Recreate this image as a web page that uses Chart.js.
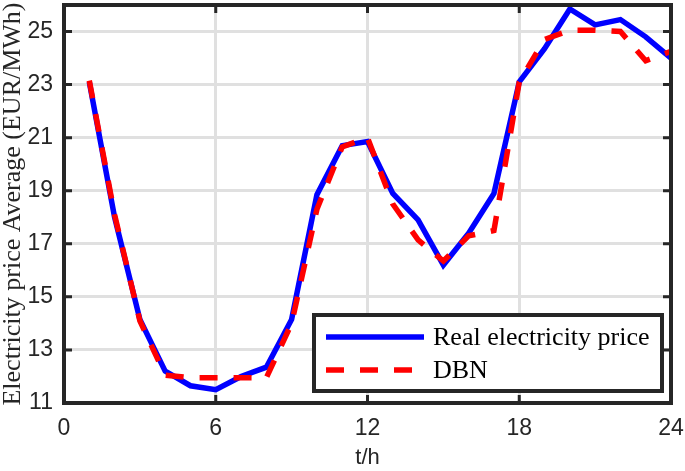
<!DOCTYPE html>
<html>
<head>
<meta charset="utf-8">
<script src="https://cdn.jsdelivr.net/npm/chart.js@4.4.1/dist/chart.umd.min.js"></script>
<style>
  html, body { margin: 0; padding: 0; background: #fff; }
  #wrap { width: 685px; height: 471px; }
</style>
</head>
<body>
<div id="wrap"><canvas id="priceChart" width="685" height="471"></canvas></div>
<script>
// hours of the day
const hours = [1, 2, 3, 4, 5, 6, 7, 8, 9, 10, 11, 12, 13, 14, 15, 16, 17, 18, 19, 20, 21, 22, 23, 24];
// measured average price
const realPrice = [23.1, 18.0, 14.15, 12.2, 11.65, 11.5, 12.0, 12.35, 14.15, 18.85, 20.7, 20.85,
                   18.9, 17.9, 16.2, 17.4, 18.9, 23.1, 24.35, 25.85, 25.25, 25.45, 24.8, 24.0];
// DBN forecast
const dbnPrice = [23.15, 18.1, 14.1, 12.05, 11.95, 11.95, 11.95, 11.95, 14.0, 18.3, 20.65, 21.0,
                  18.5, 17.15, 16.35, 17.3, 17.5, 23.1, 24.7, 25.05, 25.05, 25.0, 23.9, 24.25];
const xTicks = [0, 6, 12, 18, 24];
const yTicks = [11, 13, 15, 17, 19, 21, 23, 25];

const axisColor = '#262626';

// MATLAB style box with inner ticks
const boxPlugin = {
    id: 'boxPlugin',
    afterDatasetsDraw(chart) {
        const ctx = chart.ctx;
        const a = chart.chartArea;
        const xs = chart.scales.x, ys = chart.scales.y;
        ctx.save();
        ctx.strokeStyle = axisColor;
        ctx.lineWidth = 3;
        xTicks.forEach(v => {
            const px = xs.getPixelForValue(v);
            ctx.beginPath();
            ctx.moveTo(px, a.bottom); ctx.lineTo(px, a.bottom - 8);
            ctx.moveTo(px, a.top); ctx.lineTo(px, a.top + 8);
            ctx.stroke();
        });
        yTicks.forEach(v => {
            const py = ys.getPixelForValue(v);
            ctx.beginPath();
            ctx.moveTo(a.left, py); ctx.lineTo(a.left + 8, py);
            ctx.moveTo(a.right, py); ctx.lineTo(a.right - 8, py);
            ctx.stroke();
        });
        ctx.lineWidth = 4;
        ctx.strokeRect(a.left, a.top, a.right - a.left, a.bottom - a.top);
        ctx.restore();
    }
};

// legend box in the lower right corner of the plot
const legendBox = {
    id: 'legendBox',
    afterDraw(chart) {
        const ctx = chart.ctx;
        const x0 = 314, y0 = 315, w = 348, h = 76;
        ctx.save();
        ctx.fillStyle = '#fff';
        ctx.fillRect(x0, y0, w, h);
        ctx.strokeStyle = axisColor;
        ctx.lineWidth = 4;
        ctx.strokeRect(x0, y0, w, h);
        const rows = [337, 370];
        chart.data.datasets.forEach((ds, i) => {
            const y = rows[i];
            ctx.strokeStyle = ds.borderColor;
            ctx.lineWidth = ds.borderWidth;
            ctx.setLineDash(ds.borderDash || []);
            ctx.beginPath();
            ctx.moveTo(326, y); ctx.lineTo(424, y);
            ctx.stroke();
            ctx.setLineDash([]);
            ctx.fillStyle = '#000';
            ctx.font = '26px "Liberation Serif", "Times New Roman", serif';
            ctx.textBaseline = 'middle';
            ctx.textAlign = 'left';
            ctx.fillText(ds.label, 433, y + 1);
        });
        ctx.restore();
    }
};

const ctx = document.getElementById('priceChart').getContext('2d');
const priceChart = new Chart(ctx, {
    type: 'line',
    data: {
        labels: hours,
        datasets: [{
            label: 'Real electricity price',
            data: hours.map((h, i) => ({ x: h, y: realPrice[i] })),
            borderColor: '#0000ff',
            borderWidth: 5.5,
            pointRadius: 0,
            tension: 0,
            order: 1
        }, {
            label: 'DBN',
            data: hours.map((h, i) => ({ x: h, y: dbnPrice[i] })),
            borderColor: '#ff0000',
            borderWidth: 5.5,
            borderDash: [18, 16],
            pointRadius: 0,
            tension: 0,
            order: 0
        }]
    },
    options: {
        responsive: false,
        animation: false,
        layout: { padding: { top: 5, right: 14, left: 0, bottom: 0 } },
        plugins: {
            legend: { display: false },
            tooltip: { enabled: false }
        },
        scales: {
            x: {
                type: 'linear',
                min: 0,
                max: 24,
                afterBuildTicks: axis => { axis.ticks = xTicks.map(v => ({ value: v })); },
                afterFit: axis => {
                    axis.height = 68;
                    axis.paddingLeft = 0;
                    axis.paddingRight = 0;
                },
                grid: { color: '#e0e0e0', lineWidth: 3, drawTicks: false },
                border: { display: false },
                ticks: {
                    padding: 12,
                    color: axisColor,
                    font: { family: '"Liberation Sans", Arial, sans-serif', size: 23 },
                    maxRotation: 0
                },
                title: {
                    display: true,
                    text: 't/h',
                    color: axisColor,
                    padding: { top: 0, bottom: 0 },
                    font: { family: '"Liberation Sans", Arial, sans-serif', size: 22 }
                }
            },
            y: {
                min: 11,
                max: 26,
                afterBuildTicks: axis => { axis.ticks = yTicks.map(v => ({ value: v })); },
                afterFit: axis => {
                    axis.width = 64;
                    axis.paddingTop = 0;
                    axis.paddingBottom = 0;
                },
                grid: { color: '#e0e0e0', lineWidth: 3, drawTicks: false },
                border: { display: false },
                ticks: {
                    padding: 11,
                    color: axisColor,
                    font: { family: '"Liberation Sans", Arial, sans-serif', size: 23 }
                },
                title: {
                    display: true,
                    text: 'Electricity price Average (EUR/MWh)',
                    color: axisColor,
                    padding: 0,
                    font: { family: '"Liberation Serif", "Times New Roman", serif', size: 26, lineHeight: 1 }
                }
            }
        }
    },
    plugins: [boxPlugin, legendBox]
});
</script>
</body>
</html>
